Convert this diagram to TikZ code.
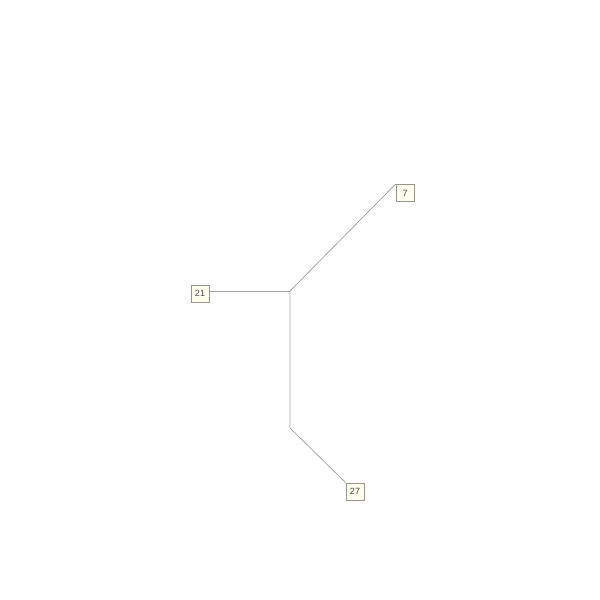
\documentclass[tikz,border=0pt]{standalone}
\usepackage{fontspec}
\setmainfont{Liberation Sans}
\begin{document}
\begin{tikzpicture}[x=1pt, y=-1pt, every node/.style={font=\fontsize{9}{10}\selectfont}]
			% Define colors
			\definecolor{leaf_bg}{RGB}{255, 255, 238}
			\definecolor{leaf_border}{RGB}{150, 150, 140}
			\definecolor{branch}{RGB}{165, 165, 165}
			\definecolor{leaf_text}{RGB}{70, 70, 70}

			% Styles
			\tikzstyle{leaf} = [fill=leaf_bg, draw=leaf_border, text=leaf_text, minimum width=18pt, minimum height=17pt, inner sep=0pt, line width=0.8pt]
			\tikzstyle{edge} = [draw=branch, line width=0.8pt]

			% Page
			\useasboundingbox (0,0) rectangle (600,600);

			% Leaves
			\node[leaf] (n7) at (405, 193) {7};
			\node[leaf] (n21) at (200, 293.5) {21};
			\node[leaf] (n27) at (355, 491.5) {27};

			% Inner points of the tree
			\coordinate (j1) at (290, 291);
			\coordinate (j2) at (290, 428);

			% Branches
			\draw[edge] (n21.east |- j1) -- (j1);
			\draw[edge] (j1) -- (n7.north west);
			\draw[edge] (j1) -- (j2) -- (n27.north west);

		\end{tikzpicture}
\end{document}
